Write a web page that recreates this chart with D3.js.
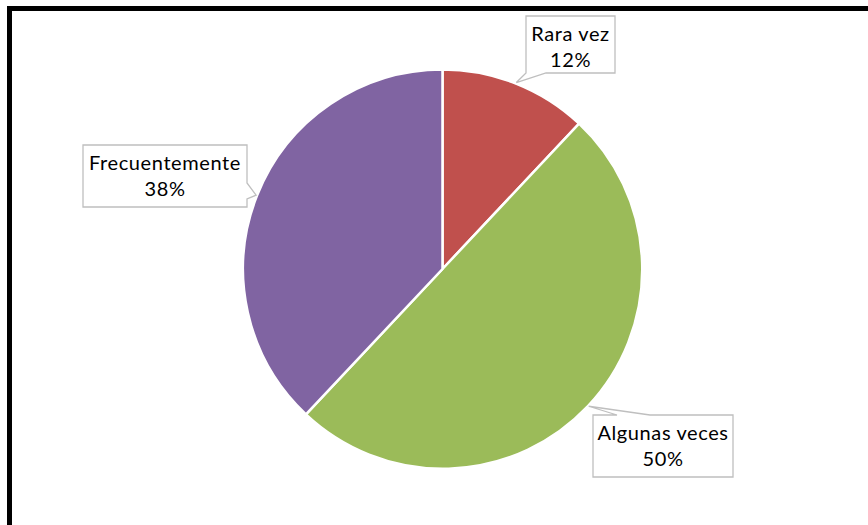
<!DOCTYPE html>
<html>
<head>
<meta charset="utf-8">
<script src="https://cdn.jsdelivr.net/npm/d3@7"></script>
<style>
  html, body { margin: 0; padding: 0; background: #fff; }
  svg { display: block; }
  text { font-family: Lato, "Open Sans", sans-serif; fill: #000; }
</style>
</head>
<body>
<svg id="chart" width="868" height="525"></svg>
<script>
// Frequency of response
const categories = ["Rara vez", "Algunas veces", "Frecuentemente"];
const percentages = [12, 50, 38];
const sliceColors = ["#C0504D", "#9BBB59", "#8064A2"];

// Callout boxes: box rectangle and which side carries the pointer
const calloutBoxes = [
  { x: 526, y: 16, w: 89, h: 57, side: "bottom", base: [0, 20] },
  { x: 593, y: 415, w: 140, h: 62, side: "top", base: [24, 57] },
  { x: 83, y: 145, w: 164, h: 62, side: "right", base: [38, 54] }
];

const svg = d3.select("#chart");
const W = 868, H = 525;

// Outer frame (right and bottom edges run past the visible area)
svg.append("rect")
  .attr("x", 9.5).attr("y", 8.5)
  .attr("width", W + 20).attr("height", H + 20)
  .attr("fill", "none").attr("stroke", "#000").attr("stroke-width", 5);

const cx = 442.5, cy = 269, radius = 199.5;

const pie = d3.pie().sort(null).value(d => d);
const arcs = pie(percentages);
const arc = d3.arc().innerRadius(0).outerRadius(radius);

const g = svg.append("g").attr("transform", `translate(${cx},${cy})`);
g.selectAll("path.slice")
  .data(arcs)
  .join("path")
  .attr("class", "slice")
  .attr("d", arc)
  .attr("fill", (d, i) => sliceColors[i])
  .attr("stroke", "#fff")
  .attr("stroke-width", 2.5)
  .attr("stroke-linejoin", "round");

// Callout labels with pointers to each slice's mid-angle
arcs.forEach((a, i) => {
  const b = calloutBoxes[i];
  const mid = (a.startAngle + a.endAngle) / 2;
  const tx = cx + (radius + 1) * Math.sin(mid);
  const ty = cy - (radius + 1) * Math.cos(mid);
  const x0 = b.x, y0 = b.y, x1 = b.x + b.w, y1 = b.y + b.h;
  const p = d3.path();
  p.moveTo(x0, y0);
  if (b.side === "top") {
    p.lineTo(x0 + b.base[0], y0); p.lineTo(tx, ty); p.lineTo(x0 + b.base[1], y0);
  }
  p.lineTo(x1, y0);
  if (b.side === "right") {
    p.lineTo(x1, y0 + b.base[0]); p.lineTo(tx, ty); p.lineTo(x1, y0 + b.base[1]);
  }
  p.lineTo(x1, y1);
  if (b.side === "bottom") {
    p.lineTo(x0 + b.base[1], y1); p.lineTo(tx, ty); p.lineTo(x0 + b.base[0], y1);
  }
  p.lineTo(x0, y1);
  p.closePath();
  svg.append("path")
    .attr("d", p.toString())
    .attr("fill", "#fff")
    .attr("stroke", "#BFBFBF")
    .attr("stroke-width", 1.3);

  const t = svg.append("text")
    .attr("text-anchor", "middle")
    .attr("font-size", 20)
    .attr("letter-spacing", 0.6);
  t.append("tspan").attr("x", x0 + b.w / 2).attr("y", y0 + 25).text(categories[i]);
  t.append("tspan").attr("x", x0 + b.w / 2).attr("y", y0 + 51).text(percentages[i] + "%");
});
</script>
</body>
</html>
